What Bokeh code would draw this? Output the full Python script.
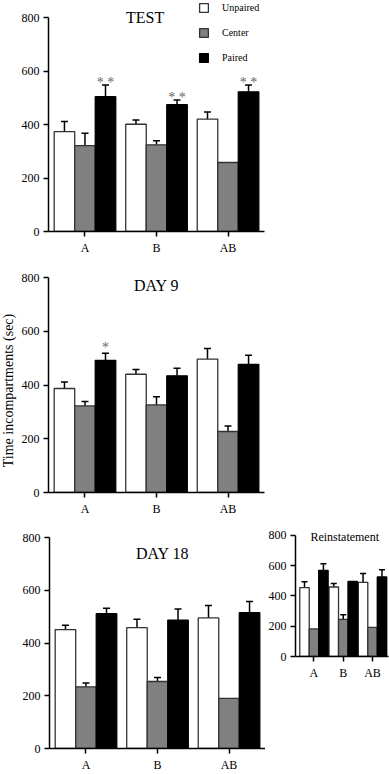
import math
from bokeh.plotting import figure
from bokeh.layouts import column, row
from bokeh.models import (ColumnDataSource, Whisker, TeeHead, Label, Legend,
                          LegendItem, FixedTicker, Range1d)
from bokeh.core.properties import value
from bokeh.embed import file_html
from bokeh.resources import INLINE

# ---------------- data ----------------
categories = ["A", "B", "AB"]
series = ["Unpaired", "Center", "Paired"]
y_ticks = [0, 200, 400, 600, 800]

test_unpaired = [373, 401, 420]
test_unpaired_err = [38, 16, 27]
test_center = [321, 324, 258]
test_center_err = [46, 15, 0]
test_paired = [504, 474, 522]
test_paired_err = [44, 18, 26]
test_marks = ["* *", "* *", "* *"]

day9_unpaired = [387, 440, 496]
day9_unpaired_err = [24, 18, 40]
day9_center = [322, 326, 227]
day9_center_err = [17, 30, 20]
day9_paired = [492, 434, 477]
day9_paired_err = [26, 28, 34]
day9_marks = ["*", "", ""]

day18_unpaired = [451, 458, 495]
day18_unpaired_err = [16, 32, 47]
day18_center = [234, 254, 190]
day18_center_err = [14, 15, 0]
day18_paired = [511, 487, 515]
day18_paired_err = [21, 42, 42]

rein_unpaired = [455, 459, 490]
rein_unpaired_err = [39, 24, 59]
rein_center = [182, 245, 193]
rein_center_err = [0, 30, 0]
rein_paired = [569, 496, 525]
rein_paired_err = [43, 0, 48]

y_title = "Time incompartments (sec)"

# ---------------- style ----------------
FONT = "Liberation Serif"
FILLS = ["white", "#808080", "black"]
LINES = ["#333333", "#333333", "black"]
Y_MAX = 800
MAIN_X = (-0.51, 2.51)
MAIN_W = 0.287


def panel(values, errors, width, height, borders, x_range, y_top, bar_w, cap,
          marks=None, mark_pad=0, x_bounds=None):
    left, right, top, bottom = borders
    p = figure(width=width, height=height,
               x_range=Range1d(*x_range), y_range=Range1d(0, y_top),
               output_backend="svg", toolbar_location=None,
               min_border_left=left, min_border_right=right,
               min_border_top=top, min_border_bottom=bottom)
    p.outline_line_color = None
    p.grid.visible = False
    p.background_fill_color = "white"
    p.border_fill_color = "white"
    rends = []
    for k, (vals, errs) in enumerate(zip(values, errors)):
        xs = [i + (k - 1) * bar_w for i in range(len(categories))]
        src = ColumnDataSource(dict(x=xs, top=vals))
        r = p.vbar(x="x", top="top", bottom=0, width=bar_w, source=src,
                   fill_color=FILLS[k], line_color=LINES[k], line_width=1.3)
        rends.append(r)
        keep = [j for j, e in enumerate(errs) if e > 0]
        wsrc = ColumnDataSource(dict(
            x=[xs[j] for j in keep],
            lower=[vals[j] for j in keep],
            upper=[vals[j] + errs[j] for j in keep]))
        w = Whisker(base="x", lower="lower", upper="upper", source=wsrc,
                    line_color="black", line_width=1.5,
                    upper_head=TeeHead(size=cap, line_color="black",
                                       line_width=1.5),
                    lower_head=None)
        p.add_layout(w)
        if marks is not None and k == 2:
            mk = [j for j, m in enumerate(marks) if m]
            msrc = ColumnDataSource(dict(
                x=[xs[j] for j in mk],
                y=[vals[j] + errs[j] + mark_pad for j in mk],
                t=[marks[j] for j in mk]))
            p.text(x="x", y="y", text="t", source=msrc,
                   text_font=value(FONT), text_font_size=value("14px"),
                   text_align="center", text_baseline="alphabetic",
                   text_color="#666666")
    for ax in (p.xaxis[0], p.yaxis[0]):
        ax.axis_line_width = 1.5
        ax.axis_line_color = "black"
        ax.major_tick_line_width = 1.5
        ax.major_tick_line_color = "black"
        ax.major_tick_out = 5
        ax.major_tick_in = 0
        ax.minor_tick_out = 0
        ax.minor_tick_in = 0
        ax.major_label_text_font = FONT
        ax.major_label_text_font_size = "12px"
        ax.major_label_text_color = "black"
        ax.major_label_standoff = 4
    p.xaxis.ticker = FixedTicker(ticks=list(range(len(categories))))
    p.xaxis.major_label_overrides = {i: c for i, c in enumerate(categories)}
    p.yaxis.ticker = FixedTicker(ticks=y_ticks)
    p.yaxis.bounds = (0, Y_MAX)
    if x_bounds is not None:
        p.xaxis.bounds = x_bounds
    return p, rends


def title(p, text, x, y, size):
    p.add_layout(Label(x=x, y=y, text=text, text_font=FONT,
                       text_font_size=size, text_align="center",
                       text_baseline="middle", text_color="black"))


px_per_unit = 216 / (MAIN_X[1] - MAIN_X[0])

# TEST: frame spans 231 px tall (0..800 is 214 px) and extends to the right edge
p1, r1 = panel([test_unpaired, test_center, test_paired],
               [test_unpaired_err, test_center_err, test_paired_err],
               389, 260, (48, 0, 0, 29),
               (MAIN_X[0], MAIN_X[0] + 341 / px_per_unit),
               Y_MAX * 231 / 214, MAIN_W, 7,
               marks=test_marks, mark_pad=9, x_bounds=MAIN_X)
title(p1, "TEST", 0.84, 800, "16px")
legend = Legend(items=[LegendItem(label=s, renderers=[r])
                       for s, r in zip(series, r1)],
                location=(150, 168), orientation="vertical",
                glyph_width=11, glyph_height=11, label_height=11,
                label_standoff=13, spacing=14, padding=0, margin=0,
                border_line_color=None, background_fill_alpha=0,
                label_text_font=FONT, label_text_font_size="10px",
                label_text_baseline="middle", label_text_color="black")
p1.add_layout(legend)

# y-axis title in its own narrow strip
lab = figure(width=18, height=260, output_backend="svg", toolbar_location=None,
             x_axis_location=None, y_axis_location=None,
             min_border_left=0, min_border_right=0, min_border_top=0,
             min_border_bottom=0)
lab.outline_line_color = None
lab.grid.visible = False
lab.add_layout(Label(x=7.5, y=130, x_units="screen", y_units="screen",
                     angle=math.pi / 2, text=y_title, text_font=FONT,
                     text_font_size="14px", text_align="center",
                     text_baseline="middle", text_color="black"))

p2, _ = panel([day9_unpaired, day9_center, day9_paired],
              [day9_unpaired_err, day9_center_err, day9_paired_err],
              371, 260, (30, 125, 17, 28), MAIN_X, Y_MAX,
              MAIN_W, 7, marks=day9_marks, mark_pad=23)
title(p2, "DAY 9", 1.0, 771, "16px")

p3, _ = panel([day18_unpaired, day18_center, day18_paired],
              [day18_unpaired_err, day18_center_err, day18_paired_err],
              265, 254, (49, 0, 17, 22), MAIN_X, Y_MAX,
              MAIN_W, 7)
title(p3, "DAY 18", 1.07, 741, "16px")

# Reinstatement: frame spans 137 px (0..800 is 122 px)
p4, _ = panel([rein_unpaired, rein_center, rein_paired],
              [rein_unpaired_err, rein_center_err, rein_paired_err],
              124, 162, (27, 1, 0, 25), (-0.63, 2.545), Y_MAX * 137 / 122,
              0.323, 6)
title(p4, "Reinstatement", 1.05, 787, "12px")

root = column(p1, row(column(lab), column(p2)), row(p3, column(p4)))

open("out.html", "w").write(file_html(root, INLINE))
